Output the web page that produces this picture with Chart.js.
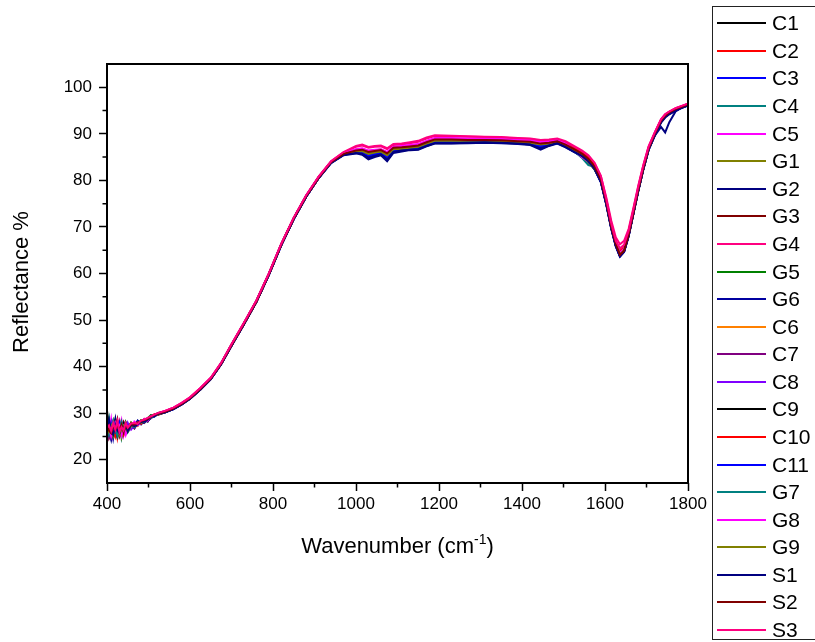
<!DOCTYPE html>
<html><head><meta charset="utf-8">
<script src="https://cdn.jsdelivr.net/npm/chart.js@4"></script>
<style>
html,body{margin:0;padding:0;background:#fff;}
#wrap{position:relative;width:815px;height:642px;overflow:hidden;font-family:"Liberation Sans",Arial,sans-serif;color:#000;}
#c{position:absolute;left:0;top:0;}
#legend{position:absolute;left:712px;top:6px;width:120px;height:634px;border:1px solid #222;box-sizing:border-box;}
.ln{position:absolute;left:4px;width:49px;height:2px;}
.tx{position:absolute;left:59px;font-size:21px;line-height:24px;white-space:nowrap;}
#xt{position:absolute;left:0;width:795px;top:533px;text-align:center;font-size:22px;line-height:26px;}
#xt span{font-size:14px;position:relative;top:-9px;}
#yt{position:absolute;left:-79px;top:269px;width:200px;text-align:center;font-size:22px;line-height:26px;transform:rotate(-90deg);}
</style></head>
<body>
<div id="wrap">
<canvas id="c" width="815" height="642"></canvas>
<div id="legend"></div>
<div id="xt">Wavenumber (cm<span>-1</span>)</div>
<div id="yt">Reflectance %</div>
</div>
<script>
const wavenumbers = [400,405,410,415,420,425,430,435,440,445,450,458,466,474,482,490,498,506,514,522,
 540,560,580,600,625,650,675,700,730,760,790,820,850,880,910,940,970,
 1000,1015,1030,1045,1060,1075,1090,1110,1130,1150,1170,1190,
 1230,1270,1310,1350,1390,1420,1445,1465,1485,
 1505,1525,1545,1560,1575,1590,1603,1615,1626,1636,1646,1657,1668,1680,1692,1705,1720,1735,1745,1755,1770,1785,1800];

const C1 = [28.0,24.8,26.2,27.5,25.6,27.0,25.9,27.4,26.1,27.8,26.6,27.9,26.8,28.3,27.7,28.7,28.2,29.5,29.3,30.0,
 30.4,31.1,32.1,33.3,35.3,37.5,40.7,44.7,49.3,54.1,59.9,66.3,71.9,76.7,80.7,84.0,85.8,
 86.4,86.2,85.5,85.8,86.1,85.2,86.6,86.7,86.9,87.2,87.8,88.4,
 88.4,88.4,88.5,88.3,88.2,88.0,87.5,87.9,88.2,
 87.4,86.4,85.4,84.3,82.7,79.8,75.0,69.8,66.0,63.8,64.8,68.2,72.8,77.8,82.4,86.7,89.9,92.6,93.8,94.5,95.2,95.7,96.2];
const C2 = [25.2,27.3,25.5,26.8,28.4,24.9,27.6,25.4,26.9,25.8,27.5,26.7,27.9,27.3,28.4,27.9,28.9,28.9,29.8,29.6,
 30.2,31.0,31.9,33.1,35.1,37.3,40.5,44.5,49.1,54.0,59.8,66.2,71.8,76.6,80.6,83.9,85.8,
 86.5,86.6,86.1,86.3,86.5,85.8,87.0,87.1,87.3,87.6,88.3,88.9,
 88.9,88.8,88.8,88.7,88.5,88.4,88.0,88.2,88.5,
 87.8,86.8,85.8,84.8,83.2,80.4,75.7,70.5,66.8,64.5,65.4,68.7,73.2,78.2,82.7,86.9,90.1,92.9,94.0,94.6,95.3,95.8,96.3];
const C3 = [29.6,26.0,24.6,27.2,26.5,28.1,25.3,26.7,27.9,25.9,26.4,27.6,27.4,27.5,28.2,28.5,28.4,29.0,29.4,29.9,
 30.3,30.9,32.0,33.2,35.1,37.3,40.6,44.6,49.2,54.0,59.7,66.1,71.7,76.5,80.5,83.8,85.6,
 86.2,86.0,85.3,85.7,85.9,85.0,86.4,86.6,86.8,87.0,87.7,88.3,
 88.3,88.3,88.4,88.2,88.0,87.9,87.4,87.8,88.1,
 87.3,86.3,85.3,84.2,82.6,79.9,75.2,70.0,66.2,63.9,64.9,68.3,72.9,77.9,82.4,86.7,89.8,92.7,93.8,94.5,95.2,95.7,96.2];
const C4 = [26.8,28.9,25.1,25.7,27.1,26.4,28.0,24.7,26.6,27.4,25.9,27.1,27.0,28.0,27.8,28.1,28.7,29.3,29.6,29.7,
 30.2,30.9,31.9,33.1,35.2,37.4,40.6,44.6,49.2,54.1,59.9,66.3,71.9,76.7,80.7,83.9,85.7,
 86.3,86.4,85.9,86.2,86.4,85.6,86.9,87.0,87.2,87.4,88.1,88.7,
 88.7,88.6,88.6,88.5,88.3,88.2,87.8,88.0,88.3,
 87.6,86.4,85.0,83.6,82.8,80.1,75.4,70.2,66.5,64.2,65.1,68.5,73.0,78.0,82.5,86.8,90.0,92.8,93.9,94.6,95.3,95.8,96.3];
const C5 = [27.4,25.9,28.6,24.9,26.3,27.7,26.2,28.3,25.2,26.7,27.4,26.6,28.2,27.6,27.9,28.6,28.5,29.1,29.4,29.9,
 30.4,31.0,32.0,33.3,35.3,37.5,40.6,44.6,49.2,54.0,59.8,66.2,71.8,76.6,80.6,83.9,85.8,
 86.6,86.8,86.3,86.5,86.6,86.0,87.1,87.3,87.5,87.7,88.4,89.0,
 89.0,88.9,88.9,88.8,88.6,88.5,88.1,88.3,88.6,
 87.9,86.7,85.4,84.4,82.9,80.3,75.6,70.5,66.9,64.7,65.6,68.8,73.3,78.3,82.8,87.0,90.2,93.0,94.1,94.7,95.4,95.9,96.4];
const G1 = [24.2,27.0,26.4,28.2,25.3,26.1,27.3,25.0,27.6,26.0,26.6,28.0,27.3,27.4,28.3,28.1,28.8,29.2,29.3,29.8,
 30.3,31.0,32.1,33.2,35.2,37.4,40.6,44.7,49.3,54.1,59.9,66.2,71.8,76.6,80.6,83.9,85.7,
 86.3,86.3,85.7,86.0,86.2,85.4,86.7,86.8,87.0,87.3,88.0,88.6,
 88.6,88.5,88.6,88.4,88.3,88.1,87.7,88.0,88.3,
 87.5,86.5,85.5,84.1,82.5,80.0,75.3,70.1,66.4,64.1,65.0,68.4,72.9,77.9,82.4,86.7,89.9,92.7,93.8,94.5,95.2,95.7,96.2];
const G2 = [27.9,26.3,24.4,26.9,28.8,25.4,26.5,27.8,25.6,27.0,26.5,27.4,26.9,28.1,27.6,28.4,28.3,29.0,29.5,29.7,
 30.2,30.9,31.9,33.1,35.1,37.3,40.5,44.5,49.1,53.9,59.7,66.1,71.7,76.5,80.5,83.7,85.4,
 85.8,85.5,84.5,85.0,85.4,84.1,85.9,86.2,86.5,86.6,87.3,87.9,
 87.9,88.0,88.1,88.0,87.8,87.6,86.6,87.4,87.9,
 87.1,86.1,85.1,84.0,82.4,79.6,74.8,69.6,65.8,63.6,64.6,68.0,72.6,77.6,82.2,86.5,89.6,91.5,90.3,92.5,94.8,95.6,96.1];
const G3 = [26.1,28.2,27.4,25.3,26.9,28.6,25.1,26.4,28.0,26.8,27.3,26.9,27.6,27.9,28.1,28.6,28.8,29.2,29.6,29.8,
 30.3,31.0,32.0,33.2,35.2,37.4,40.6,44.6,49.2,54.0,59.8,66.2,71.8,76.6,80.6,83.9,85.7,
 86.4,86.5,86.0,86.2,86.4,85.7,86.9,87.0,87.2,87.4,88.1,88.7,
 88.7,88.7,88.7,88.6,88.4,88.3,87.9,88.1,88.4,
 87.6,86.6,85.6,84.5,82.9,80.1,75.3,70.0,66.2,63.9,64.8,68.2,72.8,77.8,82.4,86.7,89.9,92.8,93.9,94.6,95.3,95.8,96.3];
const G4 = [28.5,25.0,26.6,27.9,26.0,27.3,28.4,25.6,26.4,27.6,26.8,27.7,27.5,28.2,27.9,28.8,28.7,29.4,29.5,30.0,
 30.5,31.2,32.2,33.4,35.4,37.6,40.8,44.8,49.4,54.2,60.0,66.4,72.0,76.8,80.8,84.1,86.0,
 87.2,87.5,87.0,87.2,87.3,86.7,87.6,87.7,88.0,88.3,89.0,89.5,
 89.5,89.4,89.3,89.2,89.0,88.9,88.5,88.6,88.8,
 88.2,87.2,86.2,85.2,83.6,80.9,76.4,71.4,67.8,66.3,67.0,69.6,73.9,78.8,83.2,87.3,90.3,93.1,94.2,94.8,95.5,96.0,96.5];
const G5 = [25.7,27.6,25.9,26.3,28.0,26.6,25.6,27.0,26.2,28.1,27.2,26.8,27.8,27.5,28.5,28.2,28.9,29.6,29.4,29.7,
 30.2,31.0,32.0,33.1,35.1,37.4,40.6,44.6,49.2,54.0,59.8,66.2,71.8,76.6,80.6,83.8,85.6,
 86.2,86.3,85.7,86.0,86.2,85.4,86.7,86.8,87.0,87.2,87.9,88.5,
 88.5,88.5,88.5,88.4,88.2,88.1,87.7,87.9,88.2,
 87.5,86.5,85.5,84.0,82.3,80.1,75.4,70.2,66.5,64.2,65.1,68.4,72.9,77.9,82.4,86.7,89.9,92.7,93.8,94.5,95.2,95.7,96.2];
const G6 = [27.1,26.5,27.8,24.7,27.3,25.5,27.1,26.3,25.7,26.5,27.6,27.0,27.1,28.4,27.8,28.0,28.5,29.1,29.5,29.9,
 30.3,31.0,32.0,33.2,35.2,37.4,40.6,44.6,49.2,54.0,59.8,66.2,71.8,76.6,80.6,83.8,85.5,
 86.0,85.8,85.0,85.4,85.8,84.7,86.3,86.5,86.7,86.9,87.6,88.2,
 88.2,88.2,88.3,88.2,88.0,87.8,87.1,87.7,88.0,
 87.2,86.2,85.2,84.1,82.5,79.7,75.0,69.8,66.0,63.7,64.7,68.1,72.7,77.7,82.3,86.6,89.7,92.5,93.6,94.3,95.0,95.6,96.1];
const C6 = [26.3,25.8,27.2,26.6,26.8,27.9,26.4,25.8,27.5,26.9,26.2,27.5,27.7,27.6,28.2,28.4,28.6,29.3,29.4,29.8,
 30.3,31.0,32.0,33.2,35.2,37.4,40.6,44.6,49.2,54.0,59.8,66.2,71.8,76.6,80.6,83.9,85.7,
 86.3,86.5,85.9,86.1,86.3,85.6,86.8,86.9,87.1,87.3,88.0,88.6,
 88.6,88.6,88.6,88.5,88.3,88.2,87.8,88.0,88.3,
 87.6,86.6,85.6,84.6,83.0,80.2,75.5,70.3,66.6,64.3,65.2,68.5,73.0,78.0,82.5,86.8,90.0,92.8,93.9,94.6,95.3,95.8,96.3];
const C7 = [27.6,24.9,25.8,27.7,26.2,26.0,27.6,26.9,26.3,25.6,27.1,27.2,26.7,27.9,28.0,28.5,28.4,29.1,29.6,29.7,
 30.3,31.0,32.0,33.2,35.2,37.4,40.6,44.6,49.2,54.0,59.8,66.2,71.8,76.6,80.6,83.9,85.7,
 86.3,86.3,85.8,86.1,86.3,85.5,86.8,86.9,87.1,87.3,88.0,88.6,
 88.5,88.6,88.6,88.4,88.3,88.2,87.8,88.0,88.3,
 87.5,86.5,85.5,84.5,82.9,80.1,75.4,70.1,66.3,64.0,64.9,68.3,72.8,77.8,82.4,86.7,89.9,92.7,93.8,94.5,95.2,95.7,96.2];
const C8 = [25.9,26.7,28.1,25.6,27.0,26.2,25.8,27.7,26.8,26.1,27.9,26.5,27.4,27.7,28.1,28.2,28.7,29.0,29.5,29.8,
 30.3,31.0,32.0,33.2,35.2,37.4,40.6,44.6,49.2,54.0,59.8,66.2,71.8,76.6,80.6,83.9,85.7,
 86.4,86.4,85.9,86.2,86.4,85.6,86.9,87.0,87.2,87.4,88.1,88.7,
 88.7,88.7,88.6,88.5,88.4,88.3,87.9,88.1,88.4,
 87.7,86.6,85.3,84.3,82.8,80.2,75.5,70.3,66.6,64.3,65.2,68.5,73.0,78.0,82.5,86.8,90.0,92.8,93.9,94.6,95.3,95.8,96.3];
const C9 = [30.6,26.1,25.3,26.4,27.8,25.2,26.9,26.6,27.7,26.4,26.9,27.8,27.1,27.7,28.3,28.3,28.6,29.2,29.4,29.9,
 30.3,31.0,32.0,33.2,35.2,37.4,40.6,44.6,49.2,54.0,59.8,66.2,71.8,76.6,80.6,83.9,85.7,
 86.2,86.2,85.6,85.9,86.1,85.3,86.6,86.8,87.0,87.2,87.9,88.5,
 88.5,88.5,88.5,88.4,88.2,88.1,87.7,87.9,88.2,
 87.4,86.4,85.4,84.4,82.8,80.0,75.2,70.0,66.3,64.0,64.9,68.3,72.8,77.8,82.4,86.7,89.9,92.7,93.8,94.5,95.2,95.7,96.2];
const C10 = [26.9,27.9,26.0,27.0,25.1,27.2,26.1,27.1,25.5,27.2,26.4,27.1,27.6,28.0,27.7,28.6,28.5,29.3,29.5,29.7,
 30.3,31.0,32.0,33.2,35.2,37.4,40.6,44.6,49.2,54.0,59.8,66.2,71.8,76.6,80.6,83.9,85.8,
 86.6,86.7,86.2,86.4,86.6,85.9,87.0,87.2,87.4,87.6,88.3,88.9,
 88.9,88.8,88.8,88.7,88.5,88.4,88.0,88.2,88.5,
 87.8,86.8,85.8,84.8,83.2,80.4,75.7,70.6,67.0,64.8,65.7,68.9,73.3,78.2,82.7,86.9,90.1,92.9,94.0,94.7,95.4,95.9,96.4];
const C11 = [24.9,26.4,27.6,26.3,25.9,26.8,28.0,26.2,26.5,26.2,27.3,26.8,27.4,27.5,28.1,28.4,28.8,29.2,29.3,29.8,
 30.2,30.9,31.9,33.1,35.1,37.3,40.5,44.5,49.1,53.9,59.7,66.1,71.7,76.5,80.5,83.8,85.6,
 86.1,86.0,85.4,85.7,85.9,85.1,86.5,86.6,86.8,87.0,87.7,88.3,
 88.3,88.3,88.3,88.2,88.0,87.9,87.4,87.8,88.1,
 87.3,86.3,85.3,84.2,82.6,79.8,75.1,69.9,66.1,63.8,64.8,68.2,72.8,77.8,82.3,86.6,89.8,92.6,93.7,94.4,95.1,95.7,96.2];
const G7 = [27.3,25.4,26.8,28.4,26.7,25.1,26.6,28.1,26.0,26.6,26.7,27.4,27.0,27.8,28.2,28.1,28.9,29.0,29.6,29.9,
 30.3,31.0,32.0,33.2,35.2,37.4,40.6,44.6,49.2,54.0,59.8,66.2,71.8,76.6,80.6,83.9,85.7,
 86.3,86.4,85.8,86.1,86.3,85.5,86.8,86.9,87.1,87.3,88.0,88.6,
 88.6,88.6,88.6,88.5,88.3,88.2,87.8,88.0,88.3,
 87.5,86.3,84.8,83.3,82.9,80.0,75.3,70.1,66.4,64.1,65.0,68.4,72.9,77.9,82.4,86.7,89.9,92.7,93.8,94.5,95.2,95.7,96.2];
const G8 = [26.0,27.1,25.0,26.6,27.9,26.5,27.3,25.3,27.0,25.4,27.2,26.9,28.0,27.4,28.0,28.7,28.4,29.4,29.5,29.8,
 30.4,31.1,32.1,33.3,35.3,37.5,40.7,44.7,49.3,54.1,59.9,66.3,71.9,76.7,80.7,84.0,85.9,
 86.7,86.9,86.4,86.6,86.7,86.1,87.2,87.4,87.6,87.8,88.5,89.1,
 89.1,89.0,89.0,88.9,88.7,88.6,88.2,88.4,88.7,
 87.9,86.5,85.0,84.0,82.7,80.2,75.6,70.4,66.7,64.4,65.3,68.6,73.1,78.1,82.6,86.9,90.1,92.9,94.0,94.7,95.4,95.9,96.4];
const G9 = [25.4,26.6,27.3,25.1,26.6,27.4,25.4,26.5,27.3,26.8,26.0,27.2,27.3,27.9,27.9,28.3,28.7,29.1,29.5,29.7,
 30.3,31.0,32.0,33.2,35.2,37.4,40.6,44.6,49.2,54.0,59.8,66.2,71.8,76.6,80.6,83.9,85.7,
 86.2,86.3,85.7,86.0,86.2,85.4,86.7,86.8,87.0,87.2,87.9,88.5,
 88.5,88.5,88.5,88.4,88.2,88.1,87.7,87.9,88.2,
 87.4,86.4,85.3,84.0,82.5,80.0,75.3,70.1,66.4,64.1,65.0,68.4,72.9,77.9,82.4,86.7,89.9,92.7,93.8,94.5,95.2,95.7,96.2];
const S1 = [26.6,28.5,26.1,25.4,27.5,26.3,25.7,27.2,26.7,27.7,26.1,27.5,27.2,27.6,28.1,28.2,28.6,29.2,29.4,29.8,
 30.2,30.9,31.9,33.1,35.1,37.3,40.5,44.5,49.1,53.9,59.7,66.1,71.7,76.5,80.5,83.8,85.5,
 85.9,85.7,84.8,85.2,85.6,84.4,86.1,86.4,86.6,86.7,87.4,88.0,
 88.0,88.1,88.2,88.1,87.9,87.7,86.8,87.5,88.0,
 87.2,86.2,85.2,84.1,82.5,79.7,74.9,69.7,65.9,63.7,64.7,68.1,72.7,77.7,82.3,86.6,89.7,92.4,93.5,94.2,95.0,95.6,96.1];
const S2 = [27.7,26.2,25.7,27.4,26.4,27.6,26.3,27.5,25.9,27.3,26.8,27.6,27.5,27.8,28.3,28.5,28.8,29.3,29.6,29.9,
 30.3,31.0,32.0,33.2,35.2,37.4,40.6,44.6,49.2,54.0,59.8,66.2,71.8,76.6,80.6,83.9,85.7,
 86.4,86.6,86.1,86.3,86.5,85.8,87.0,87.1,87.3,87.5,88.2,88.8,
 88.8,88.7,88.7,88.6,88.4,88.3,87.9,88.1,88.4,
 87.7,86.7,85.7,84.6,83.0,80.2,75.4,70.1,66.3,64.0,64.9,68.3,72.9,77.9,82.5,86.8,90.0,92.8,93.9,94.6,95.3,95.8,96.3];
const S3 = [26.8,27.4,26.2,27.9,26.5,28.3,25.9,27.0,26.3,27.9,26.9,27.8,27.9,27.7,28.4,28.6,29.0,29.3,29.7,30.0,
 30.5,31.2,32.2,33.4,35.4,37.6,40.8,44.8,49.4,54.2,60.0,66.4,72.0,76.8,80.8,84.1,86.1,
 87.4,87.7,87.2,87.4,87.5,86.9,87.8,87.9,88.2,88.5,89.2,89.7,
 89.6,89.5,89.4,89.3,89.1,89.0,88.7,88.8,89.0,
 88.4,87.4,86.4,85.4,83.8,81.0,76.0,70.8,67.0,65.4,66.2,69.2,73.6,78.6,83.1,87.2,90.3,93.1,94.2,94.8,95.5,96.0,96.5];

const seriesNames = ['C1','C2','C3','C4','C5','G1','G2','G3','G4','G5','G6','C6','C7','C8','C9','C10','C11','G7','G8','G9','S1','S2','S3'];
const seriesValues = [C1,C2,C3,C4,C5,G1,G2,G3,G4,G5,G6,C6,C7,C8,C9,C10,C11,G7,G8,G9,S1,S2,S3];
const seriesColors = ['#000000','#FF0000','#0000FF','#008080','#FF00FF','#808000','#000080','#800000','#FF0080','#008000','#0000A0',
 '#FF8000','#800080','#8000FF','#000000','#FF0000','#0000FF','#008080','#FF00FF','#808000','#000080','#800000','#FF0080'];

const xTicks = [400,600,800,1000,1200,1400,1600,1800];
const xMinor = [500,700,900,1100,1300,1500,1700];
const yTicks = [20,30,40,50,60,70,80,90,100];
const yMinor = [25,35,45,55,65,75,85,95];

const FONT = '"Liberation Sans", Arial, sans-serif';

const legend = document.getElementById('legend');
seriesNames.forEach((n,i)=>{
  const cy = 16.3 + i*27.58;
  const ln = document.createElement('div');
  ln.className='ln'; ln.style.top=(cy-1)+'px'; ln.style.background=seriesColors[i];
  const tx = document.createElement('div');
  tx.className='tx'; tx.style.top=(cy-12)+'px'; tx.textContent=n;
  legend.appendChild(ln); legend.appendChild(tx);
});

const datasets = seriesNames.map((name,i)=>({
  label:name,
  data: wavenumbers.map((w,j)=>({x:w,y:seriesValues[i][j]})),
  borderColor: seriesColors[i],
  borderWidth: 2,
  pointRadius: 0,
  fill: false,
  tension: 0,
  order: seriesNames.length-1-i
}));

const framePlugin = {
  id:'frame',
  afterDraw(chart){
    const {ctx, chartArea:a, scales:{x,y}} = chart;
    ctx.save();
    ctx.strokeStyle='#000';
    ctx.lineWidth=2;
    ctx.strokeRect(a.left, a.top, a.right-a.left, a.bottom-a.top);
    ctx.lineWidth=1.5;
    ctx.beginPath();
    xMinor.forEach(v=>{const px=x.getPixelForValue(v); ctx.moveTo(px,a.bottom); ctx.lineTo(px,a.bottom+4.5);});
    yMinor.forEach(v=>{const py=y.getPixelForValue(v); ctx.moveTo(a.left,py); ctx.lineTo(a.left-4.5,py);});
    ctx.stroke();
    ctx.restore();
  }
};

new Chart(document.getElementById('c'), {
  type:'line',
  data:{datasets},
  plugins:[framePlugin],
  options:{
    responsive:false,
    animation:false,
    events:[],
    layout:{padding:{top:64,right:127,bottom:119,left:0}},
    plugins:{legend:{display:false},tooltip:{enabled:false},title:{display:false}},
    scales:{
      x:{
        type:'linear', min:400, max:1800,
        afterBuildTicks:s=>{s.ticks = xTicks.map(v=>({value:v}));},
        afterFit:s=>{s.height=40;},
        ticks:{autoSkip:false, maxRotation:0, padding:3, color:'#000', font:{family:FONT,size:17}, callback:v=>String(v)},
        grid:{display:true, drawOnChartArea:false, drawTicks:true, tickLength:8, tickWidth:1.5, tickColor:'#000'},
        border:{display:false}
      },
      y:{
        type:'linear', min:15, max:105,
        afterBuildTicks:s=>{s.ticks = yTicks.map(v=>({value:v}));},
        afterFit:s=>{s.width=107;},
        ticks:{autoSkip:false, padding:7, color:'#000', font:{family:FONT,size:17}, callback:v=>String(v)},
        grid:{display:true, drawOnChartArea:false, drawTicks:true, tickLength:8, tickWidth:1.5, tickColor:'#000'},
        border:{display:false}
      }
    }
  }
});
</script>
</body></html>
